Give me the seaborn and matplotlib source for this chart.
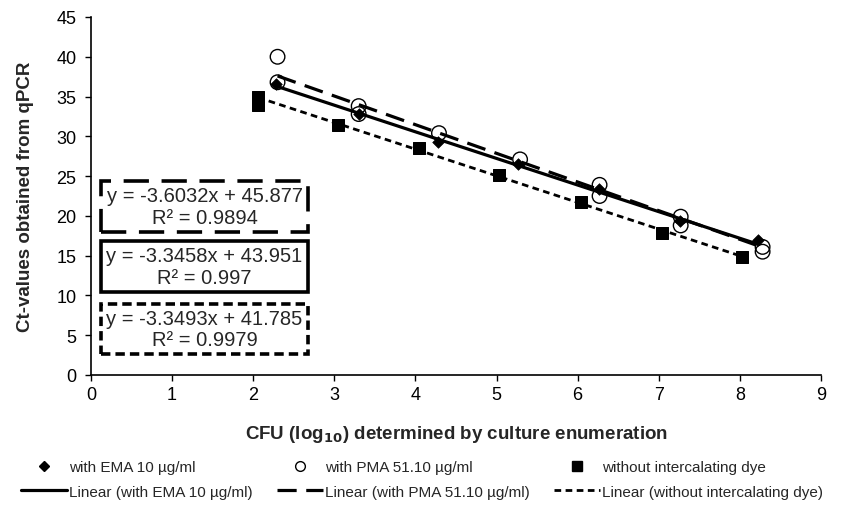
import numpy as np
import pandas as pd
import matplotlib
matplotlib.use("Agg")
import matplotlib.pyplot as plt
import seaborn as sns
from matplotlib.patches import Rectangle
from matplotlib.lines import Line2D

# ---- data ----
ema_x = [2.28, 3.30, 4.28, 5.27, 6.26, 7.26, 8.22]
ema_y = [36.6, 32.8, 29.3, 26.5, 23.4, 19.4, 17.0]

pma_x = [2.30, 2.30, 3.30, 3.30, 4.29, 5.29, 6.27, 6.27, 7.27, 7.27, 8.28, 8.28]
pma_y = [40.0, 36.8, 33.8, 32.8, 30.4, 27.1, 23.9, 22.5, 19.9, 18.8, 16.1, 15.5]

none_x = [2.06, 2.06, 3.05, 4.04, 5.03, 6.04, 7.04, 8.03]
none_y = [35.0, 34.0, 31.4, 28.5, 25.2, 21.8, 17.9, 14.8]

fit_slopes = [-3.3458, -3.6032, -3.3493]
fit_intercepts = [43.951, 45.877, 41.785]
fit_r2 = ["0.997", "0.9894", "0.9979"]

series_names = ["with EMA 10 µg/ml", "with PMA 51.10 µg/ml", "without intercalating dye"]
x_ticks = [0, 1, 2, 3, 4, 5, 6, 7, 8, 9]
y_ticks = [0, 5, 10, 15, 20, 25, 30, 35, 40, 45]

# ---- styling ----
sns.set_style("ticks")
plt.rcParams["font.family"] = ["Liberation Sans", "DejaVu Sans"]

fig = plt.figure(figsize=(8.44, 5.06), dpi=100)
ax = fig.add_axes([91 / 844, 1 - 376 / 506, 730 / 844, 358 / 506])

xs_all = [ema_x, pma_x, none_x]
line_styles = [(None, 2.3), ((6, 3), 2.3), ((2.4, 1.6), 2.0)]

# fitted lines
for xs, b, a, (dash, lw) in zip(xs_all, fit_slopes, fit_intercepts, line_styles):
    lx = np.array([min(xs), max(xs)])
    ly = b * lx + a
    l = sns.lineplot(x=lx, y=ly, ax=ax, color="black", lw=lw)
    if dash is not None:
        l.lines[-1].set_dashes(dash)

# points
sns.scatterplot(x=pma_x, y=pma_y, ax=ax, marker="o", s=110, facecolor="none",
                edgecolor="black", linewidth=1.0, zorder=3)
sns.scatterplot(x=ema_x, y=ema_y, ax=ax, marker="D", s=35, color="black",
                edgecolor="black", zorder=4)
sns.scatterplot(x=none_x, y=none_y, ax=ax, marker="s", s=80, color="black",
                edgecolor="black", zorder=4)

ax.set_xlim(0, 9)
ax.set_ylim(0, 45)
ax.set_xticks(x_ticks)
ax.set_yticks(y_ticks)
ax.tick_params(labelsize=13, length=4.5, width=1, color="black", labelcolor="black")
ax.tick_params(axis="y", pad=6)
for s in ["left", "bottom"]:
    ax.spines[s].set_linewidth(1.2)
    ax.spines[s].set_color("black")
sns.despine(ax=ax)

ax.set_ylabel("Ct-values obtained from qPCR", fontsize=13.5, fontweight="bold", labelpad=16)
ax.set_xlabel("CFU (log$_{\\mathbf{10}}$) determined by culture enumeration",
              fontsize=13.5, fontweight="bold", labelpad=14)

# equation boxes (order: PMA box, EMA box, none box)
box_specs = [
    (1, 0.3994, 0.1425, (0, (7, 3.5))),
    (0, 0.2318, 0.1425, "solid"),
    (2, 0.0587, 0.1397, (0, (2.6, 1.4))),
]
for idx, y0, h, ls in box_specs:
    rect = Rectangle((0.0137, y0), 0.2836, h, transform=ax.transAxes,
                     facecolor="white", edgecolor="black", linewidth=2.6,
                     linestyle=ls, zorder=5)
    ax.add_patch(rect)
    txt = f"y = {fit_slopes[idx]:.4f}x + {fit_intercepts[idx]:.3f}\nR² = {fit_r2[idx]}"
    ax.text(0.0137 + 0.2836 / 2, y0 + h / 2, txt, transform=ax.transAxes,
            ha="center", va="center", fontsize=14.5, linespacing=1.15, zorder=6)

# legend
handles = []
labels = []
markers = [dict(marker="D", markersize=5, markerfacecolor="black", markeredgecolor="black"),
           dict(marker="o", markersize=7, markerfacecolor="none", markeredgecolor="black"),
           dict(marker="s", markersize=7, markerfacecolor="black", markeredgecolor="black")]
leg_lines = [dict(ls="-", lw=2.3), dict(ls=(0, (6, 3)), lw=2.3), dict(ls=(0, (2.4, 1.6)), lw=2.0)]
for name, mk, ln in zip(series_names, markers, leg_lines):
    handles.append(Line2D([], [], ls="none", color="black", **mk))
    labels.append(name)
    handles.append(Line2D([], [], color="black", **ln))
    labels.append(f"Linear ({name})")

fig.legend(handles, labels, ncol=3, loc="upper center", bbox_to_anchor=(0.5, 1 - 455 / 506),
           frameon=False, fontsize=11, handlelength=3.0, handletextpad=0.15,
           columnspacing=1.6, labelspacing=0.7, borderaxespad=0)

fig.savefig("out.png", dpi=100, facecolor="white")
